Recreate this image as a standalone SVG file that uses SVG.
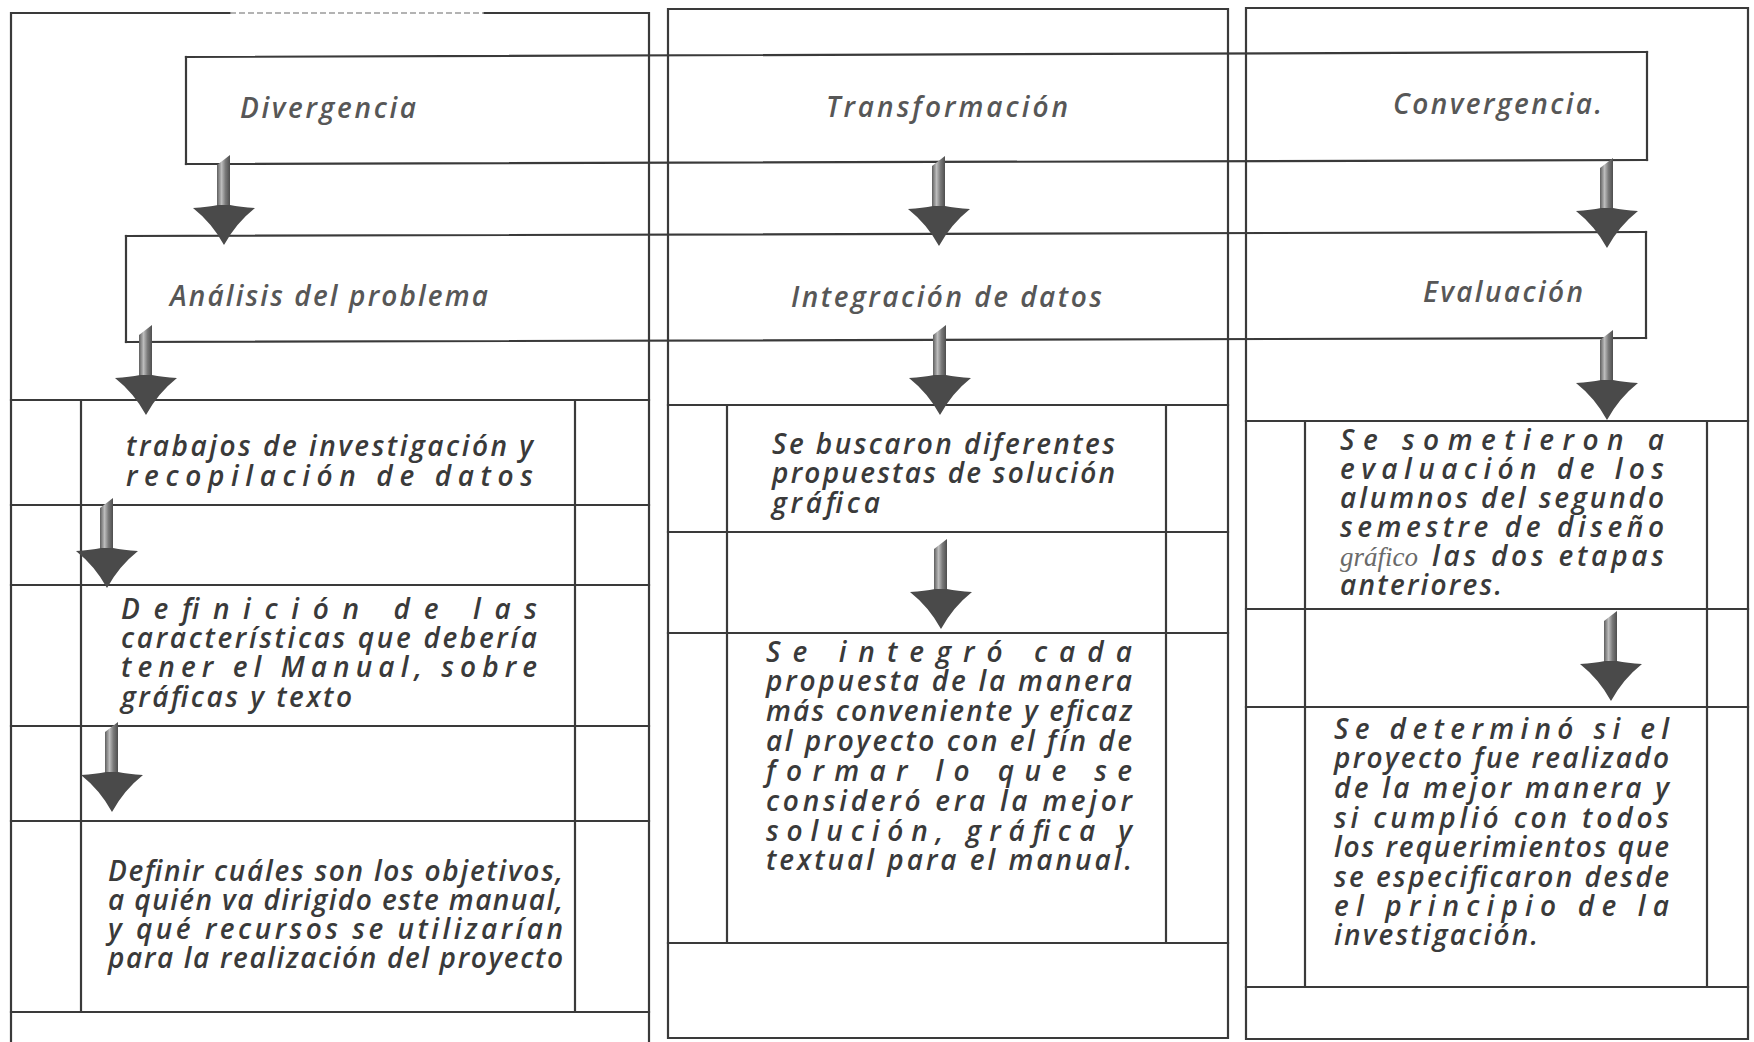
<svg xmlns="http://www.w3.org/2000/svg" xmlns:xlink="http://www.w3.org/1999/xlink" width="1754" height="1042" viewBox="0 0 1754 1042">
<style>
  .ln { stroke: #3a3a3a; stroke-width: 2.2; fill: none; stroke-linecap: square; }
  .faint { stroke: #9a9a9a; stroke-width: 1.5; fill: none; stroke-dasharray: 6 3; }
  .hd { font-family: "Open Sans", "Noto Sans", "DejaVu Sans", sans-serif; font-style: italic; font-weight: 600; font-size: 28px; fill: #575757; }
  .tx { font-family: "Open Sans", "Noto Sans", "DejaVu Sans", sans-serif; font-style: italic; font-weight: 600; font-size: 28px; fill: #3a3a3a; }
  .serif { font-family: "Liberation Serif", "DejaVu Serif", serif; font-style: italic; font-weight: normal; font-size: 27px; fill: #6a6a6a; }
</style>
<defs>
  <linearGradient id="shaftGrad" x1="0" y1="0" x2="1" y2="0">
    <stop offset="0" stop-color="#5e5e5e"/>
    <stop offset="0.35" stop-color="#bdbdbd"/>
    <stop offset="0.65" stop-color="#7a7a7a"/>
    <stop offset="1" stop-color="#4e4e4e"/>
  </linearGradient>
  <g id="arrow">
    <path d="M -7,-80 L 6,-90 L 6,-34 L -7,-34 Z" fill="url(#shaftGrad)"/>
    <path d="M -6,-40 Q -16,-38 -31,-37 Q -12,-22 0,0 Q 12,-22 31,-37 Q 16,-38 6,-40 Z" fill="#4a4a4a"/>
  </g>
</defs>
<rect x="0" y="0" width="1754" height="1042" fill="#ffffff"/>

<g id="frames">
  <path class="ln" d="M 11,1042 L 11,13 L 230,13 M 484,13 L 649,13 L 649,1042"/>
  <path class="faint" d="M 230,13 L 484,13"/>
  <path class="ln" d="M 668,9 L 1228,9 L 1228,1038 L 668,1038 Z"/>
  <path class="ln" d="M 1246,8 L 1748,8 L 1748,1039 L 1246,1039 Z"/>
</g>

<g id="header-divergencia">
  <path class="ln" d="M 186,57 L 186,164"/>
  <text class="hd" x="240" y="118" textLength="176" lengthAdjust="spacing">Divergencia</text>
</g>
<g id="header-transformacion">
  <text class="hd" x="826" y="117" textLength="242" lengthAdjust="spacing">Transformación</text>
</g>
<g id="header-convergencia">
  <path class="ln" d="M 1647,52 L 1647,160"/>
  <text class="hd" x="1393" y="114" textLength="209" lengthAdjust="spacing">Convergencia.</text>
</g>
<g id="band-lines">
  <path class="ln" d="M 186,57 L 1647,52 M 186,164 L 1647,160 M 126,236 L 1646,232 M 126,342 L 1646,338"/>
</g>
<g id="stage-analisis">
  <path class="ln" d="M 126,236 L 126,342"/>
  <text class="hd" x="170" y="306" textLength="318" lengthAdjust="spacing">Análisis del problema</text>
</g>
<g id="stage-integracion">
  <text class="hd" x="791" y="307" textLength="311" lengthAdjust="spacing">Integración de datos</text>
</g>
<g id="stage-evaluacion">
  <path class="ln" d="M 1646,232 L 1646,338"/>
  <text class="hd" x="1423" y="302" textLength="160" lengthAdjust="spacing">Evaluación</text>
</g>

<g id="col1-grid">
  <path class="ln" d="M 11,400 L 649,400 M 11,505 L 649,505 M 11,585 L 649,585 M 11,726 L 649,726 M 11,821 L 649,821 M 11,1012 L 649,1012 M 81,400 L 81,1012 M 575,400 L 575,1012"/>
</g>
<g id="step-trabajos">
  <text class="tx"><tspan x="126" y="456" textLength="407" lengthAdjust="spacing">trabajos de investigación y</tspan><tspan x="126" y="486" textLength="407" lengthAdjust="spacing">recopilación de datos</tspan></text>
</g>
<g id="step-definicion">
  <text class="tx"><tspan x="121" y="619" textLength="416" lengthAdjust="spacing">Definición de las</tspan><tspan x="121" y="648" textLength="416" lengthAdjust="spacing">características que debería</tspan><tspan x="121" y="677" textLength="416" lengthAdjust="spacing">tener el Manual, sobre</tspan><tspan x="121" y="707" textLength="231" lengthAdjust="spacing">gráficas y texto</tspan></text>
</g>
<g id="step-definir">
  <text class="tx"><tspan x="108" y="881" textLength="455" lengthAdjust="spacing">Definir cuáles son los objetivos,</tspan><tspan x="108" y="910" textLength="455" lengthAdjust="spacing">a quién va dirigido este manual,</tspan><tspan x="108" y="939" textLength="455" lengthAdjust="spacing">y qué recursos se utilizarían</tspan><tspan x="108" y="968" textLength="455" lengthAdjust="spacing">para la realización del proyecto</tspan></text>
</g>

<g id="col2-grid">
  <path class="ln" d="M 668,405 L 1228,405 M 668,532 L 1228,532 M 668,633 L 1228,633 M 668,943 L 1228,943 M 727,405 L 727,943 M 1166,405 L 1166,943"/>
</g>
<g id="step-buscaron">
  <text class="tx"><tspan x="772" y="454" textLength="343" lengthAdjust="spacing">Se buscaron diferentes</tspan><tspan x="772" y="483" textLength="343" lengthAdjust="spacing">propuestas de solución</tspan><tspan x="772" y="513" textLength="108" lengthAdjust="spacing">gráfica</tspan></text>
</g>
<g id="step-integro">
  <text class="tx"><tspan x="766" y="662" textLength="366" lengthAdjust="spacing">Se integró cada</tspan><tspan x="766" y="691" textLength="366" lengthAdjust="spacing">propuesta de la manera</tspan><tspan x="766" y="721" textLength="366" lengthAdjust="spacing">más conveniente y eficaz</tspan><tspan x="766" y="751" textLength="366" lengthAdjust="spacing">al proyecto con el fín de</tspan><tspan x="766" y="781" textLength="366" lengthAdjust="spacing">formar lo que se</tspan><tspan x="766" y="811" textLength="366" lengthAdjust="spacing">consideró era la mejor</tspan><tspan x="766" y="841" textLength="366" lengthAdjust="spacing">solución, gráfica y</tspan><tspan x="766" y="870" textLength="366" lengthAdjust="spacing">textual para el manual.</tspan></text>
</g>

<g id="col3-grid">
  <path class="ln" d="M 1246,421 L 1748,421 M 1246,609 L 1748,609 M 1246,707 L 1748,707 M 1246,987 L 1748,987 M 1305,421 L 1305,987 M 1707,421 L 1707,987"/>
</g>
<g id="step-sometieron">
  <text class="tx"><tspan x="1340" y="450" textLength="324" lengthAdjust="spacing">Se sometieron a</tspan><tspan x="1340" y="479" textLength="324" lengthAdjust="spacing">evaluación de los</tspan><tspan x="1340" y="508" textLength="324" lengthAdjust="spacing">alumnos del segundo</tspan><tspan x="1340" y="537" textLength="324" lengthAdjust="spacing">semestre de diseño</tspan><tspan x="1340" y="566" class="serif">gráfico</tspan><tspan x="1432" y="566" textLength="232" lengthAdjust="spacing">las dos etapas</tspan><tspan x="1340" y="595" textLength="162" lengthAdjust="spacing">anteriores.</tspan></text>
</g>
<g id="step-determino">
  <text class="tx"><tspan x="1334" y="739" textLength="335" lengthAdjust="spacing">Se determinó si el</tspan><tspan x="1334" y="768" textLength="335" lengthAdjust="spacing">proyecto fue realizado</tspan><tspan x="1334" y="798" textLength="335" lengthAdjust="spacing">de la mejor manera y</tspan><tspan x="1334" y="828" textLength="335" lengthAdjust="spacing">si cumplió con todos</tspan><tspan x="1334" y="857" textLength="335" lengthAdjust="spacing">los requerimientos que</tspan><tspan x="1334" y="887" textLength="335" lengthAdjust="spacing">se especificaron desde</tspan><tspan x="1334" y="916" textLength="335" lengthAdjust="spacing">el principio de la</tspan><tspan x="1334" y="945" textLength="204" lengthAdjust="spacing">investigación.</tspan></text>
</g>

<g id="connectors">
  <use href="#arrow" xlink:href="#arrow" x="224" y="245"/>
  <use href="#arrow" xlink:href="#arrow" x="146" y="415"/>
  <use href="#arrow" xlink:href="#arrow" x="107" y="588"/>
  <use href="#arrow" xlink:href="#arrow" x="112" y="812"/>
  <use href="#arrow" xlink:href="#arrow" x="939" y="246"/>
  <use href="#arrow" xlink:href="#arrow" x="940" y="415"/>
  <use href="#arrow" xlink:href="#arrow" x="941" y="629"/>
  <use href="#arrow" xlink:href="#arrow" x="1607" y="248"/>
  <use href="#arrow" xlink:href="#arrow" x="1607" y="420"/>
  <use href="#arrow" xlink:href="#arrow" x="1611" y="701"/>
</g>
</svg>
